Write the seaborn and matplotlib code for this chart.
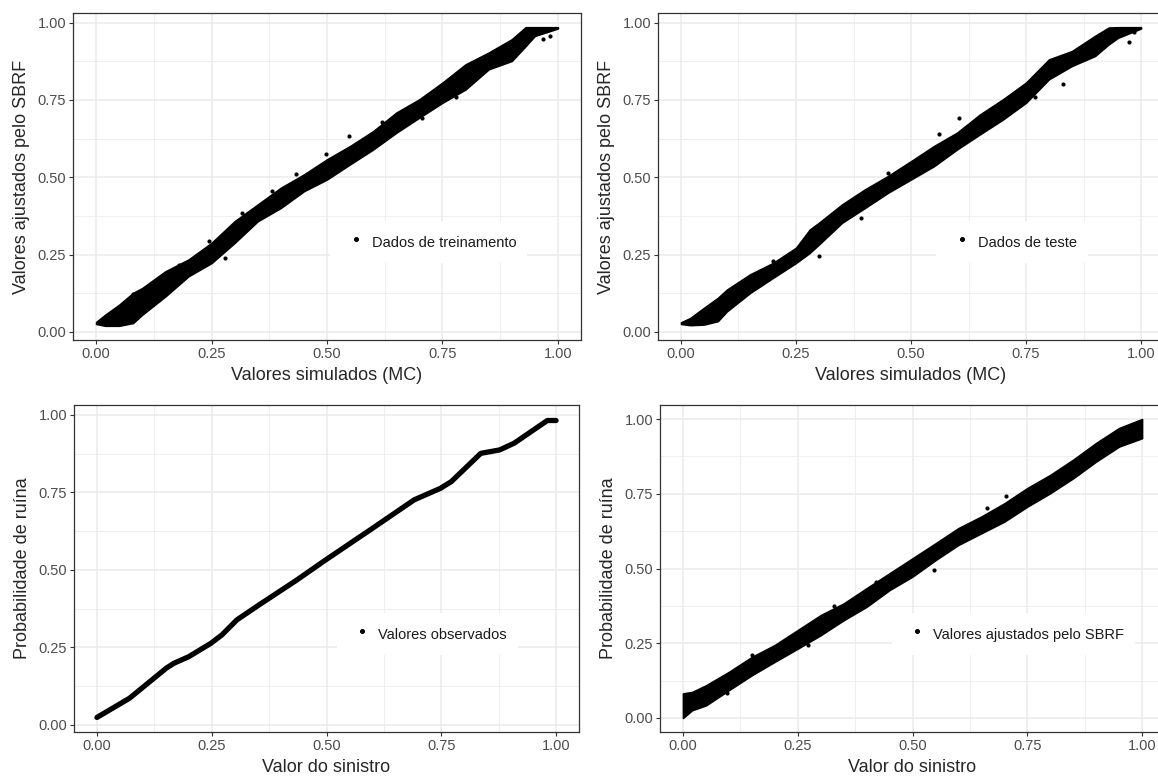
import numpy as np
import pandas as pd
import seaborn as sns
import matplotlib.pyplot as plt

sns.set_theme(style='white')
plt.rcParams['font.family'] = ['Liberation Sans', 'DejaVu Sans']

# --- data (band edges of the dense point clouds) ---
# treinamento: x = valores simulados (MC), y band low/high of fitted values
train_x = [0.0, 0.02, 0.05, 0.08, 0.10, 0.15, 0.20, 0.25, 0.30, 0.35, 0.40, 0.45,
           0.50, 0.55, 0.60, 0.65, 0.70, 0.75, 0.80, 0.85, 0.90, 0.93, 0.95, 1.0]
train_lo = [0.026, 0.020, 0.020, 0.029, 0.056, 0.115, 0.180, 0.223, 0.288, 0.358, 0.401, 0.455,
            0.493, 0.542, 0.590, 0.644, 0.693, 0.741, 0.784, 0.849, 0.876, 0.924, 0.957, 0.981]
train_hi = [0.032, 0.056, 0.088, 0.126, 0.142, 0.196, 0.234, 0.288, 0.358, 0.412, 0.466, 0.509,
            0.558, 0.601, 0.649, 0.709, 0.752, 0.806, 0.865, 0.903, 0.946, 0.985, 0.985, 0.985]
train_out_x = [0.547, 0.433, 0.316, 0.244, 0.280, 0.079, 0.706, 0.831, 0.968, 0.982, 0.497,
               0.130, 0.180, 0.380, 0.620, 0.780, 0.870, 0.060]
train_out_y = [0.633, 0.509, 0.385, 0.293, 0.239, 0.124, 0.692, 0.860, 0.948, 0.957, 0.574,
               0.160, 0.215, 0.455, 0.680, 0.760, 0.910, 0.095]

# teste
test_x = [0.0, 0.02, 0.05, 0.08, 0.10, 0.15, 0.20, 0.25, 0.28, 0.30, 0.35, 0.40, 0.45,
          0.50, 0.55, 0.60, 0.65, 0.70, 0.75, 0.80, 0.85, 0.90, 0.93, 0.95, 1.0]
test_lo = [0.026, 0.022, 0.024, 0.035, 0.067, 0.126, 0.175, 0.223, 0.256, 0.283, 0.353, 0.401, 0.450,
           0.493, 0.536, 0.590, 0.639, 0.687, 0.741, 0.817, 0.860, 0.892, 0.930, 0.951, 0.981]
test_hi = [0.031, 0.045, 0.078, 0.110, 0.137, 0.186, 0.223, 0.272, 0.331, 0.353, 0.412, 0.461, 0.504,
           0.552, 0.601, 0.644, 0.703, 0.752, 0.806, 0.881, 0.908, 0.957, 0.984, 0.985, 0.985]
test_out_x = [0.974, 0.984, 0.560, 0.604, 0.300, 0.392, 0.112, 0.770, 0.830, 0.450, 0.200]
test_out_y = [0.937, 0.968, 0.639, 0.693, 0.245, 0.369, 0.121, 0.760, 0.800, 0.515, 0.230]

# valores observados (curva)
obs_x = [0.0, 0.071, 0.151, 0.168, 0.200, 0.248, 0.272, 0.305, 0.353, 0.434, 0.498,
         0.595, 0.691, 0.748, 0.772, 0.836, 0.877, 0.909, 0.981, 1.0]
obs_y = [0.024, 0.086, 0.183, 0.199, 0.220, 0.263, 0.290, 0.339, 0.387, 0.466, 0.532,
         0.629, 0.726, 0.763, 0.785, 0.876, 0.887, 0.909, 0.982, 0.982]

# valores ajustados pelo SBRF vs valor do sinistro
fit_x = [0.0, 0.02, 0.05, 0.10, 0.15, 0.20, 0.25, 0.30, 0.35, 0.40, 0.45, 0.50,
         0.55, 0.60, 0.65, 0.70, 0.75, 0.80, 0.85, 0.90, 0.95, 1.0]
fit_lo = [0.000, 0.026, 0.042, 0.093, 0.143, 0.188, 0.232, 0.277, 0.327, 0.372, 0.428, 0.473,
          0.528, 0.579, 0.618, 0.657, 0.707, 0.752, 0.802, 0.858, 0.908, 0.936]
fit_hi = [0.082, 0.087, 0.109, 0.154, 0.204, 0.244, 0.294, 0.344, 0.383, 0.434, 0.484, 0.534,
          0.584, 0.635, 0.674, 0.718, 0.769, 0.813, 0.864, 0.920, 0.970, 1.000]
fit_out_x = [0.704, 0.546, 0.273, 0.096, 0.663, 0.330, 0.860, 0.420, 0.150]
fit_out_y = [0.743, 0.495, 0.244, 0.082, 0.702, 0.375, 0.820, 0.455, 0.210]

W, H = 1158, 776
fig = plt.figure(figsize=(W / 100, H / 100), dpi=100)


def px_axes(left, top, width, height):
    return fig.add_axes([left / W, 1 - (top + height) / H, width / W, height / H])


def style(ax, ylim, xlabel, ylabel):
    ax.set_xlim(-0.05, 1.05)
    ax.set_ylim(*ylim)
    ticks = [0, 0.25, 0.5, 0.75, 1.0]
    minor = [0.125, 0.375, 0.625, 0.875]
    ax.set_xticks(ticks)
    ax.set_yticks(ticks)
    ax.set_xticks(minor, minor=True)
    ax.set_yticks(minor, minor=True)
    ax.set_xticklabels([f'{t:.2f}' for t in ticks])
    ax.set_yticklabels([f'{t:.2f}' for t in ticks])
    ax.grid(which='major', color='#EBEBEB', lw=1.1)
    ax.grid(which='minor', color='#EBEBEB', lw=0.55)
    ax.set_axisbelow(True)
    ax.tick_params(which='major', direction='out', length=3, width=0.8, color='#333333',
                   labelcolor='#4D4D4D', labelsize=10.5, pad=2, bottom=True, left=True)
    ax.tick_params(which='minor', length=0)
    for s in ax.spines.values():
        s.set_color('#333333')
        s.set_linewidth(0.9)
    ax.set_xlabel(xlabel, fontsize=13, labelpad=4)
    ax.set_ylabel(ylabel, fontsize=13, labelpad=5)


def add_legend(ax, label):
    leg = ax.legend([plt.Line2D([], [], ls='none', marker='o', ms=2.6, color='black')], [label],
                    loc='center', bbox_to_anchor=(0.7, 0.3), frameon=True, facecolor='white',
                    edgecolor='none', framealpha=1, fancybox=False, fontsize=10.5,
                    borderpad=0.75, handlelength=2.0, handleheight=1.7, handletextpad=0.1)
    for t in leg.get_texts():
        t.set_color('#1A1A1A')


def band(ax, x, lo, hi, ox, oy):
    ax.fill_between(x, lo, hi, color='black', lw=1.2, edgecolor='black')
    sns.scatterplot(x=ox, y=oy, ax=ax, color='black', s=9, linewidth=0)


ax1 = px_axes(73, 13, 508, 327)
band(ax1, train_x, train_lo, train_hi, train_out_x, train_out_y)
style(ax1, (-0.026, 1.031), 'Valores simulados (MC)', 'Valores ajustados pelo SBRF')
add_legend(ax1, 'Dados de treinamento')

ax2 = px_axes(658, 13, 506, 327)
band(ax2, test_x, test_lo, test_hi, test_out_x, test_out_y)
style(ax2, (-0.026, 1.031), 'Valores simulados (MC)', 'Valores ajustados pelo SBRF')
add_legend(ax2, 'Dados de teste')

ax3 = px_axes(74, 405, 505, 327)
obs = pd.DataFrame({'x': obs_x, 'y': obs_y})
sns.lineplot(data=obs, x='x', y='y', ax=ax3, color='black', linewidth=3.8,
             solid_capstyle='round')
style(ax3, (-0.023, 1.032), 'Valor do sinistro', 'Probabilidade de ruína')
add_legend(ax3, 'Valores observados')

ax4 = px_axes(660, 405, 505, 327)
band(ax4, fit_x, fit_lo, fit_hi, fit_out_x, fit_out_y)
style(ax4, (-0.047, 1.047), 'Valor do sinistro', 'Probabilidade de ruína')
add_legend(ax4, 'Valores ajustados pelo SBRF')

fig.savefig('out.png', dpi=100)
